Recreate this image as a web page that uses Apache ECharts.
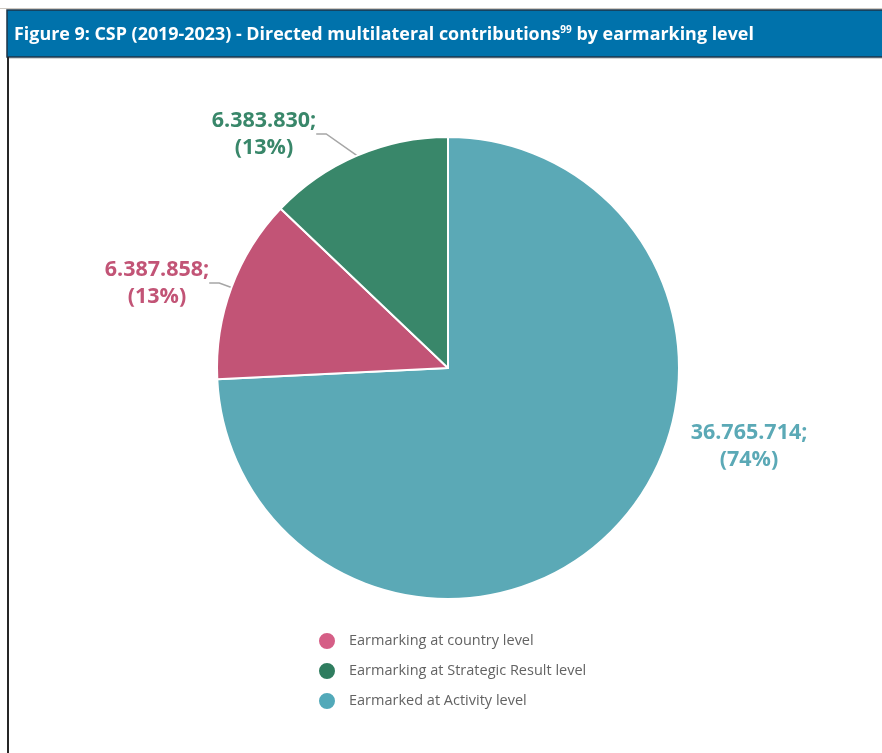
<!DOCTYPE html>
<html>
<head>
<meta charset="utf-8">
<script src="https://cdn.jsdelivr.net/npm/echarts@6/dist/echarts.min.js"></script>
<style>
  html, body { margin: 0; padding: 0; background: #ffffff; }
  #chart { width: 882px; height: 753px; }
</style>
</head>
<body>
<div id="chart"></div>
<script>
// Earmarking levels, in the order the slices run clockwise from 12 o'clock
const categories = [
  'Earmarked at Activity level',
  'Earmarking at country level',
  'Earmarking at Strategic Result level'
];
const values = [36765714, 6387858, 6383830];
const sliceColors = ['#5BA9B6', '#C25476', '#39876A'];

// Legend reads top to bottom in this order
const legendOrder = [
  'Earmarking at country level',
  'Earmarking at Strategic Result level',
  'Earmarked at Activity level'
];
const legendColors = ['#D55E86', '#2F7D5F', '#52A9B9'];

const titleText = 'Figure 9: CSP (2019-2023) - Directed multilateral contributions';
const titleSup = '99';
const titleTail = ' by earmarking level';

// Where each slice's value label sits (text centre, in px)
const labelSpots = [
  { x: 749, y: 446 },
  { x: 157, y: 283 },
  { x: 264, y: 134 }
];

function thousands(v) {
  return String(v).replace(/\B(?=(\d{3})+(?!\d))/g, '.');
}

const chart = echarts.init(document.getElementById('chart'), null, { renderer: 'canvas' });

const option = {
  animation: false,
  backgroundColor: '#ffffff',
  graphic: [
    // thin grey rule above the caption band
    { type: 'rect', shape: { x: 0, y: 8, width: 882, height: 1 }, style: { fill: '#cfc9c2' }, silent: true },
    // caption band
    { type: 'rect', shape: { x: 7, y: 10, width: 880, height: 47 },
      style: { fill: '#0072AB', stroke: '#1d3448', lineWidth: 1.5 }, silent: true },
    { type: 'rect', shape: { x: 7, y: 58, width: 875, height: 1 }, style: { fill: '#d6d6d6' }, silent: true },
    // left frame edge
    { type: 'rect', shape: { x: 7, y: 57, width: 2, height: 700 }, style: { fill: '#262626' }, silent: true },
    { type: 'text', left: 14, top: 25,
      style: {
        text: titleText + '{sup|' + titleSup + '}' + titleTail,
        fill: '#ffffff',
        font: 'bold 17.9px "Open Sans"',
        rich: {
          sup: { fontSize: 10, fontWeight: 'bold', fontFamily: 'Open Sans', fill: '#ffffff', verticalAlign: 'top', padding: [0, 0, 9, 0] }
        }
      },
      silent: true }
  ],
  legend: {
    orient: 'vertical',
    left: 317,
    top: 631,
    padding: 0,
    icon: 'circle',
    itemWidth: 18,
    itemHeight: 18,
    itemGap: 10,
    textStyle: { color: '#636363', fontSize: 14.5, lineHeight: 18, fontFamily: 'Open Sans', padding: [0, 0, 0, 8] },
    data: legendOrder.map((name, i) => ({ name: name, itemStyle: { color: legendColors[i] } }))
  },
  series: [{
    type: 'pie',
    center: [448, 368],
    radius: 231,
    startAngle: 90,
    clockwise: true,
    percentPrecision: 0,
    itemStyle: { borderColor: '#ffffff', borderWidth: 2 },
    label: {
      show: true,
      position: 'outside',
      formatter: p => thousands(p.value) + ';\n(' + p.percent + '%)',
      fontFamily: 'Open Sans',
      fontWeight: 'bold',
      fontSize: 21.5,
      lineHeight: 27,
      align: 'center'
    },
    labelLine: {
      show: true,
      length: 12,
      length2: 10,
      lineStyle: { color: '#a6a6a6', width: 1.5 }
    },
    labelLayout: function (params) {
      const spot = labelSpots[params.dataIndex];
      return { x: spot.x, y: spot.y, align: 'center', verticalAlign: 'middle' };
    },
    data: categories.map((name, i) => ({
      name: name,
      value: values[i],
      itemStyle: { color: sliceColors[i] },
      label: { color: sliceColors[i] },
      labelLine: { show: i !== 0 }
    }))
  }]
};

chart.setOption(option);
</script>
</body>
</html>
